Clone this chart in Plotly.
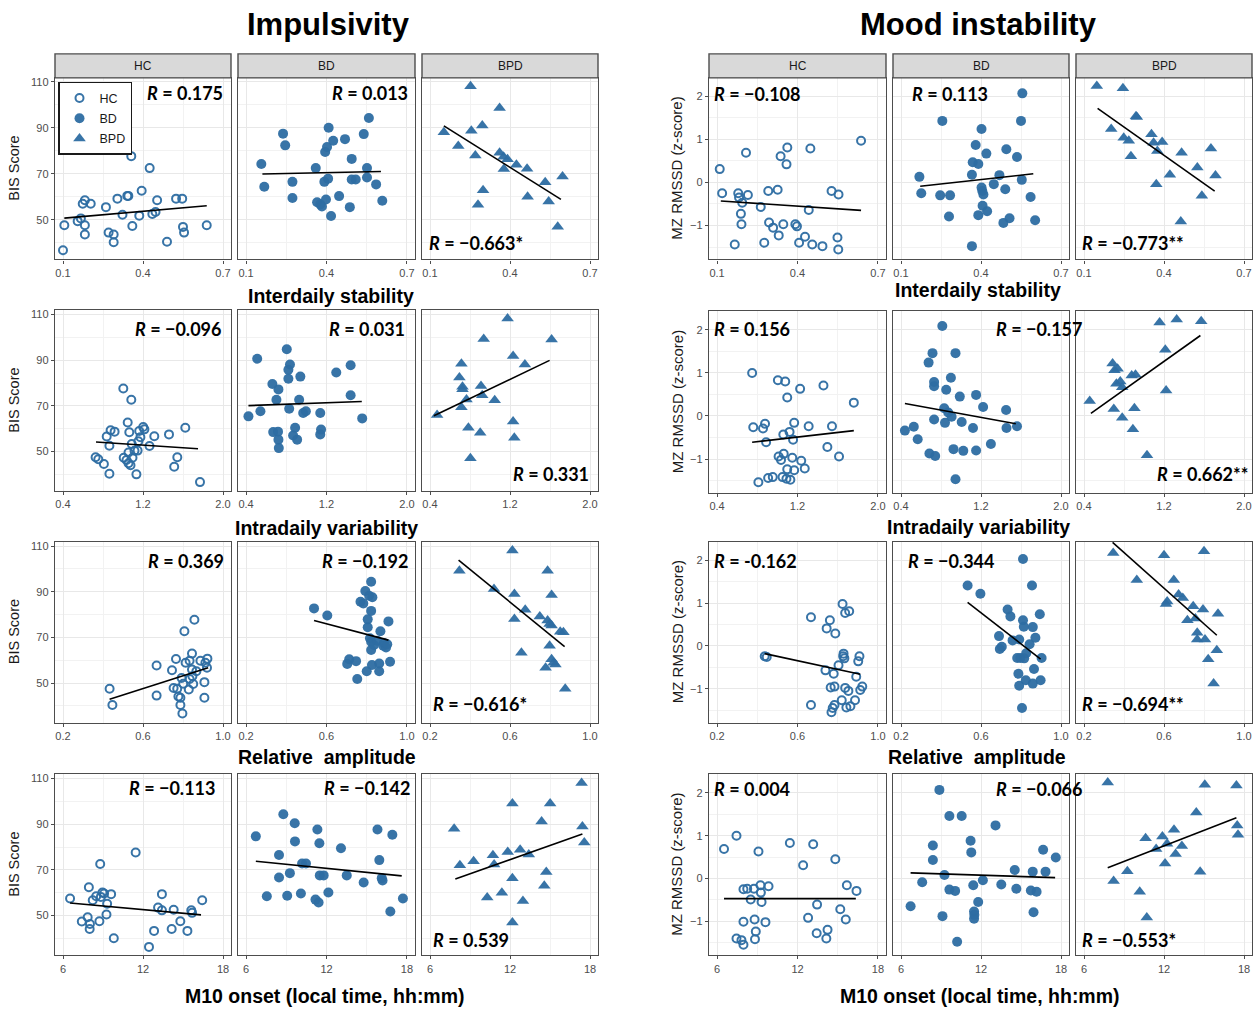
import plotly.graph_objects as go

# ------------------------------------------------------------------
# DATA
# ------------------------------------------------------------------
groups = ["HC", "BD", "BPD"]

# ---------- Impulsivity (BIS score) ----------
# Row 1 : interdaily stability
imp_is_hc_x = [0.10, 0.105, 0.155, 0.167, 0.182, 0.182, 0.174, 0.182, 0.204, 0.261, 0.271, 0.29, 0.29, 0.304, 0.323, 0.341, 0.345, 0.356, 0.36, 0.386, 0.395, 0.425, 0.435, 0.447, 0.453, 0.49, 0.524, 0.547, 0.55, 0.554, 0.639]
imp_is_hc_y = [36.7, 47.6, 49.4, 50.6, 47.6, 43.6, 57, 58.5, 57, 55.5, 44.4, 43.6, 40.2, 59.2, 52.2, 60.4, 60.4, 77.7, 47.3, 51.8, 62.6, 72.5, 52.5, 53.4, 58.5, 40.4, 59.2, 59.2, 46.9, 44.4, 47.6]
imp_is_bd_x = [0.157, 0.168, 0.238, 0.246, 0.273, 0.273, 0.36, 0.365, 0.377, 0.383, 0.392, 0.395, 0.398, 0.402, 0.406, 0.408, 0.417, 0.425, 0.447, 0.469, 0.487, 0.494, 0.494, 0.509, 0.539, 0.551, 0.551, 0.558, 0.585, 0.608]
imp_is_bd_y = [74.3, 64.4, 87.5, 82.4, 66.5, 59.5, 72.5, 57.6, 56.7, 55.8, 66.5, 79.5, 58.8, 81.7, 67.9, 90.1, 51.6, 84.4, 60.3, 85.1, 55.5, 76.5, 67.5, 67.5, 87.3, 72.5, 68.4, 94.3, 65.4, 58.3]
imp_is_bpd_x = [0.152, 0.206, 0.252, 0.255, 0.27, 0.28, 0.296, 0.299, 0.361, 0.361, 0.376, 0.377, 0.391, 0.424, 0.464, 0.466, 0.532, 0.545, 0.579, 0.597]
imp_is_bpd_y = [88.1, 82.1, 108.1, 88.8, 78, 56.5, 91, 62.9, 98.7, 79.2, 77.4, 72.1, 76.3, 74, 72.2, 60, 66.3, 58, 47, 68.8]
imp_is_fit_x = [[0.105, 0.639], [0.161, 0.603], [0.152, 0.591]]
imp_is_fit_y = [[50.7, 56.1], [69.9, 71.0], [90.9, 58.9]]

# Row 2 : intradaily variability
imp_iv_hc_x = [0.726, 0.753, 0.809, 0.837, 0.864, 0.864, 0.876, 0.916, 1.003, 1.007, 1.035, 1.047, 1.055, 1.055, 1.063, 1.075, 1.083, 1.087, 1.095, 1.115, 1.134, 1.146, 1.154, 1.162, 1.174, 1.202, 1.214, 1.265, 1.313, 1.46, 1.512, 1.543, 1.623, 1.77]
imp_iv_hc_y = [47.5, 46.6, 44.5, 56.6, 52.5, 40.3, 59.3, 58.7, 77.6, 47.3, 46.3, 62.7, 49.6, 44.9, 58.4, 44, 72.7, 53.3, 47.3, 50.3, 40, 50.4, 54.5, 59, 56.3, 60.7, 59.7, 52.4, 56.7, 57.5, 43.3, 47.5, 60.4, 36.6]
imp_iv_bd_x = [0.424, 0.511, 0.543, 0.662, 0.67, 0.702, 0.718, 0.722, 0.722, 0.726, 0.805, 0.821, 0.821, 0.829, 0.837, 0.868, 0.888, 0.908, 0.928, 0.94, 0.968, 0.995, 1.146, 1.138, 1.138, 1.297, 1.44, 1.44, 1.555]
imp_iv_bd_y = [65.4, 90.6, 67.6, 79.6, 58.5, 72.7, 58.7, 77.2, 55.2, 51.5, 94.8, 85.8, 81.9, 68.7, 88.1, 57, 60.4, 55.2, 72.7, 82.8, 66.9, 67.6, 59.6, 66.9, 57.5, 84.6, 87.8, 74.6, 64.5]
imp_iv_bpd_x = [0.471, 0.694, 0.714, 0.725, 0.725, 0.714, 0.765, 0.784, 0.804, 0.91, 0.922, 0.902, 0.937, 1.047, 1.176, 1.231, 1.231, 1.243, 1.349, 1.616]
imp_iv_bpd_y = [66, 82.4, 88.4, 78.4, 77.3, 69.4, 72.8, 60.4, 47, 78.7, 74.6, 58.2, 99.3, 72.4, 108.2, 91.8, 63.1, 56, 88.1, 99]
imp_iv_fit_x = [[0.73, 1.75], [0.424, 1.551], [0.439, 1.596]]
imp_iv_fit_y = [[54.2, 51.2], [70.1, 71.9], [65.7, 89.9]]

# Row 3 : relative amplitude
imp_ra_hc_x = [0.433, 0.447, 0.668, 0.668, 0.745, 0.753, 0.765, 0.771, 0.777, 0.787, 0.787, 0.793, 0.797, 0.801, 0.807, 0.813, 0.829, 0.833, 0.833, 0.845, 0.845, 0.847, 0.851, 0.857, 0.867, 0.887, 0.907, 0.907, 0.912, 0.922, 0.92]
imp_ra_hc_y = [47.5, 40.4, 57.7, 44.5, 55.6, 47.8, 60.5, 47.5, 44.1, 43.6, 40.4, 52.2, 36.7, 49.7, 72.7, 58.9, 47.2, 51.8, 59.8, 62.9, 55.9, 53, 49.6, 77.7, 55.2, 59.8, 50.4, 43.6, 58.9, 60.7, 56.7]
imp_ra_bd_x = [0.538, 0.604, 0.703, 0.713, 0.747, 0.753, 0.769, 0.783, 0.793, 0.8, 0.805, 0.805, 0.812, 0.816, 0.822, 0.822, 0.822, 0.822, 0.826, 0.828, 0.836, 0.852, 0.862, 0.862, 0.868, 0.882, 0.886, 0.896, 0.902, 0.908, 0.916]
imp_ra_bd_y = [82.7, 79.6, 58.4, 60.4, 59.6, 51.8, 85.6, 84.8, 90.3, 55.2, 74.4, 77.9, 88.2, 69.6, 94.4, 81.6, 68.1, 64.5, 57.9, 87.6, 66.7, 68.5, 55.2, 58.6, 72.7, 66.3, 67.5, 65.6, 67, 77, 59.3]
imp_ra_bpd_x = [0.347, 0.52, 0.612, 0.622, 0.622, 0.676, 0.657, 0.749, 0.788, 0.788, 0.798, 0.798, 0.778, 0.808, 0.808, 0.818, 0.827, 0.851, 0.867, 0.876, 0.808]
imp_ra_bpd_y = [99.2, 91.2, 108.1, 89, 78.1, 82.1, 63.3, 79.2, 99.2, 77.4, 75.9, 66.3, 56.7, 88.6, 60.4, 58.9, 58.1, 72.5, 72.2, 47.5, 75.2]
imp_ra_fit_x = [[0.433, 0.926], [0.538, 0.908], [0.343, 0.873]]
imp_ra_fit_y = [[42.9, 56.7], [77.4, 68.8], [103.8, 66.0]]

# Row 4 : M10 onset
imp_m10_hc_x = [6.53, 7.41, 7.85, 7.94, 8.0, 8.02, 8.23, 8.49, 8.73, 8.79, 8.84, 8.96, 9.08, 9.26, 9.31, 9.61, 9.81, 11.45, 12.45, 12.83, 13.13, 13.42, 13.42, 14.15, 14.3, 14.8, 15.33, 15.62, 15.68, 16.44]
imp_m10_hc_y = [57.5, 47.4, 49.3, 62.4, 44.1, 46.3, 56.7, 58.5, 47.5, 72.6, 58.2, 60.1, 59.7, 50.5, 55.2, 59.4, 40.1, 77.6, 36.3, 43.3, 53.5, 59.4, 52.3, 44.1, 52.6, 47.5, 43.3, 52.3, 51.2, 56.7]
imp_m10_bd_x = [6.73, 7.55, 8.46, 8.46, 8.78, 9.07, 9.27, 9.63, 9.65, 10.09, 10.18, 10.47, 11.18, 11.32, 11.41, 11.47, 11.5, 11.79, 12.14, 13.08, 13.51, 14.77, 15.8, 15.94, 16.12, 16.18, 16.76, 16.91, 17.7]
imp_m10_bd_y = [84.7, 58.5, 76.5, 66.7, 94.4, 58.7, 68.6, 90.4, 82.5, 59.7, 72.8, 72.8, 57, 87.7, 55.7, 81.7, 67.6, 67.6, 60.1, 79.5, 67.6, 64.5, 87.7, 74.3, 66.4, 65.4, 51.8, 85.4, 57.5]
imp_m10_bpd_x = [7.81, 8.24, 9.27, 10.29, 10.72, 10.81, 11.39, 11.83, 12.18, 12.18, 12.18, 12.76, 12.97, 13.41, 14.37, 14.57, 14.72, 15.01, 17.37, 17.43, 17.57]
imp_m10_bpd_y = [88, 72.1, 73.8, 57.9, 76.4, 72.4, 60, 77.9, 99.1, 66.4, 47, 78.8, 56.4, 76.8, 91.2, 63.1, 69.1, 99.1, 108.1, 89, 82]
imp_m10_fit_x = [[6.53, 16.35], [6.73, 17.61], [7.9, 17.43]]
imp_m10_fit_y = [[55.5, 50.3], [73.8, 67.4], [66.0, 85.7]]

# ---------- Mood instability (MZ RMSSD z-score) ----------
mood_is_hc_x = [0.11, 0.119, 0.166, 0.179, 0.182, 0.189, 0.191, 0.194, 0.208, 0.215, 0.263, 0.276, 0.291, 0.294, 0.309, 0.326, 0.33, 0.337, 0.347, 0.359, 0.362, 0.392, 0.398, 0.406, 0.428, 0.442, 0.448, 0.455, 0.493, 0.527, 0.549, 0.552, 0.553, 0.637]
mood_is_hc_y = [0.31, -0.25, -1.44, -0.25, -0.35, -0.73, -0.97, -0.47, 0.69, -0.29, -0.57, -1.4, -0.2, -0.93, -1.05, -0.17, -1.23, 0.61, -0.97, 0.42, 0.81, -0.97, -1.02, -1.4, -1.26, -0.64, 0.79, -1.44, -1.48, -0.2, -1.28, -1.56, -0.28, 0.97]
mood_is_bd_x = [0.169, 0.176, 0.247, 0.255, 0.28, 0.284, 0.366, 0.366, 0.369, 0.38, 0.39, 0.39, 0.402, 0.402, 0.405, 0.406, 0.409, 0.42, 0.423, 0.448, 0.469, 0.484, 0.491, 0.495, 0.507, 0.535, 0.55, 0.553, 0.555, 0.586, 0.603]
mood_is_bd_y = [0.13, -0.25, -0.3, 1.43, -0.79, -0.3, -1.48, 0.18, 0.47, 0.87, 0.43, -0.76, 1.24, -0.12, -0.2, -0.54, -0.28, 0.67, -0.67, -0.04, 0.17, -0.94, -0.16, 0.77, -0.83, 0.59, 1.43, 0.06, 2.07, -0.34, -0.88]
mood_is_bpd_x = [0.148, 0.202, 0.246, 0.249, 0.268, 0.276, 0.295, 0.298, 0.353, 0.361, 0.371, 0.375, 0.393, 0.422, 0.466, 0.463, 0.525, 0.542, 0.576, 0.593]
mood_is_bpd_y = [2.24, 1.24, 2.19, 1.04, 0.97, 0.61, 1.54, 1.52, 1.12, 0.92, -0.04, 0.73, 0.94, 0.18, 0.69, -0.91, 0.35, -0.31, 0.79, 0.16]
mood_is_fit_x = [[0.114, 0.637], [0.172, 0.596], [0.151, 0.59]]
mood_is_fit_y = [[-0.43, -0.65], [-0.09, 0.2], [1.72, -0.2]]

mood_iv_hc_x = [0.749, 0.76, 0.811, 0.857, 0.877, 0.888, 0.908, 0.954, 1.005, 1.012, 1.036, 1.051, 1.059, 1.063, 1.078, 1.09, 1.098, 1.098, 1.121, 1.129, 1.148, 1.156, 1.167, 1.167, 1.226, 1.237, 1.272, 1.311, 1.458, 1.497, 1.543, 1.613, 1.76]
mood_iv_hc_y = [1.0, -0.26, -1.54, -0.29, -0.18, -0.61, -1.44, -1.42, 0.83, -0.94, -1.02, -1.42, -0.43, -0.88, 0.8, -1.46, 0.43, -1.24, -0.37, -1.48, -0.97, -0.55, -0.16, -1.26, 0.63, -1.04, -1.22, -0.24, 0.71, -0.72, -0.24, -0.94, 0.31]
mood_iv_bd_x = [0.439, 0.528, 0.567, 0.676, 0.684, 0.715, 0.731, 0.731, 0.731, 0.742, 0.813, 0.832, 0.84, 0.852, 0.872, 0.899, 0.906, 0.925, 0.945, 0.945, 0.988, 1.007, 1.023, 1.12, 1.151, 1.151, 1.221, 1.299, 1.451, 1.455, 1.56]
mood_iv_bd_y = [-0.34, -0.25, -0.54, 1.24, -0.87, 1.46, 0.79, 0.69, -0.08, -0.93, 2.09, 0.18, -0.16, 0.61, 0.08, 0.89, -0.02, -0.77, 1.46, -1.47, 0.45, -0.14, -0.81, -0.28, 0.49, -0.8, 0.21, -0.65, 0.14, -0.28, -0.24]
mood_iv_bpd_x = [0.457, 0.686, 0.705, 0.724, 0.736, 0.698, 0.763, 0.782, 0.782, 0.877, 0.915, 0.889, 0.904, 1.03, 1.156, 1.213, 1.221, 1.327, 1.572]
mood_iv_bpd_y = [0.35, 1.22, 1.06, 0.75, 1.1, 0.16, 0.8, -0.04, 0.67, 0.94, 0.96, -0.31, 0.18, -0.91, 2.17, 1.54, 0.59, 2.24, 2.2]
mood_iv_fit_x = [[0.749, 1.76], [0.439, 1.548], [0.469, 1.564]]
mood_iv_fit_y = [[-0.61, -0.34], [0.29, -0.18], [0.06, 1.87]]

mood_ra_hc_x = [0.437, 0.447, 0.667, 0.667, 0.739, 0.745, 0.761, 0.765, 0.769, 0.775, 0.78, 0.784, 0.784, 0.788, 0.804, 0.82, 0.824, 0.827, 0.829, 0.833, 0.837, 0.837, 0.843, 0.853, 0.857, 0.863, 0.886, 0.892, 0.902, 0.908, 0.912, 0.922]
mood_ra_hc_y = [-0.24, -0.26, 0.67, -1.38, -0.57, 0.41, 0.6, -0.97, -1.55, -1.45, -0.65, -0.95, -1.38, 0.29, -0.45, -1.27, 0.98, -0.24, -0.18, -0.29, 0.77, -0.98, -1.44, -1.05, 0.81, -1.41, -1.27, -0.72, -0.36, -0.24, -1.03, -0.95]
mood_ra_bd_x = [0.533, 0.597, 0.69, 0.694, 0.704, 0.733, 0.747, 0.758, 0.781, 0.787, 0.791, 0.791, 0.797, 0.805, 0.81, 0.81, 0.814, 0.816, 0.824, 0.826, 0.843, 0.855, 0.859, 0.859, 0.865, 0.872, 0.894, 0.898, 0.903]
mood_ra_bd_y = [1.41, 1.22, 0.23, -0.07, -0.02, 0.85, 0.69, 0.13, -0.28, -0.65, -0.93, 0.15, -0.28, -1.45, 2.03, 0.6, 0.45, -0.29, -0.8, -0.17, 0.04, 1.41, 0.44, -0.88, -0.54, 0.19, 0.74, -0.8, -0.28]
mood_ra_bpd_x = [0.346, 0.464, 0.6, 0.61, 0.616, 0.649, 0.673, 0.694, 0.717, 0.746, 0.757, 0.766, 0.766, 0.8, 0.805, 0.821, 0.848, 0.864, 0.87, 0.795]
mood_ra_bpd_y = [2.17, 1.54, 2.12, 0.98, 1.04, 1.54, 1.2, 1.12, 0.6, 0.93, 0.64, 0.31, 0.15, 2.21, 0.15, -0.31, -0.88, -0.1, 0.75, 0.85]
mood_ra_fit_x = [[0.437, 0.912], [0.533, 0.898], [0.343, 0.864]]
mood_ra_fit_y = [[-0.18, -0.66], [1.02, -0.31], [2.42, 0.25]]

mood_m10_hc_x = [6.52, 7.45, 7.45, 7.82, 7.97, 7.97, 7.97, 8.25, 8.51, 8.75, 8.8, 8.83, 8.89, 9.09, 9.24, 9.27, 9.32, 9.61, 9.84, 11.43, 12.42, 12.79, 13.17, 13.46, 13.43, 14.15, 14.24, 14.82, 15.19, 15.6, 15.68, 16.4]
mood_m10_hc_y = [0.69, 1.0, -1.4, -1.44, -0.25, -1.01, -1.55, -0.24, -0.49, -0.24, -0.96, -1.42, -1.24, 0.63, -0.16, -0.33, -0.55, -1.02, -0.18, 0.83, 0.31, -0.92, 0.8, -0.61, -1.28, -1.4, -1.2, 0.45, -0.72, -0.96, -0.16, -0.29]
mood_m10_bd_x = [6.72, 7.59, 8.39, 8.39, 8.88, 9.11, 9.26, 9.63, 9.63, 10.06, 10.21, 10.55, 11.22, 11.27, 11.42, 11.48, 11.48, 11.5, 11.79, 12.14, 13.09, 13.52, 14.53, 14.65, 15.74, 15.88, 15.94, 16.17, 16.66, 16.84, 17.61]
mood_m10_bd_y = [-0.65, -0.09, 0.77, 0.43, 2.07, -0.88, 0.08, 1.46, -0.26, -0.29, -1.48, 1.46, 0.88, 0.61, -0.16, -0.77, -0.94, -0.85, -0.55, -0.04, 1.24, -0.14, 0.2, -0.24, -0.28, 0.16, -0.79, -0.31, 0.67, 0.16, 0.49]
mood_m10_bpd_x = [7.78, 8.22, 9.25, 10.18, 10.62, 10.71, 11.41, 11.88, 12.08, 12.23, 12.75, 12.87, 13.34, 14.42, 14.71, 15.06, 17.43, 17.49, 17.55]
mood_m10_bpd_y = [2.24, -0.06, 0.17, -0.31, 0.94, -0.91, 0.69, 0.98, 0.35, 0.81, 1.14, 0.57, 0.76, 1.54, 0.16, 2.19, 2.17, 1.24, 1.02]
mood_m10_fit_x = [[6.52, 16.35], [6.72, 17.56], [7.78, 17.43]]
mood_m10_fit_y = [[-0.47, -0.47], [0.13, 0.02], [0.25, 1.42]]

# Correlation labels
imp_r = [["0.175", "0.013", "\u22120.663*"],
         ["\u22120.096", "0.031", "0.331"],
         ["0.369", "\u22120.192", "\u22120.616*"],
         ["\u22120.113", "\u22120.142", "0.539"]]
mood_r = [["\u22120.108", "0.113", "\u22120.773**"],
          ["0.156", "\u22120.157", "0.662**"],
          ["-0.162", "\u22120.344", "\u22120.694**"],
          ["0.004", "\u22120.066", "\u22120.553*"]]

# Axis scales / labels
row_titles = ["Interdaily stability", "Intradaily variability", "Relative\u00a0 amplitude",
              "M10 onset (local time, hh:mm)"]
x_ticks = [[0.1, 0.4, 0.7], [0.4, 1.2, 2.0], [0.2, 0.6, 1.0], [6, 12, 18]]
x_ticktext = [["0.1", "0.4", "0.7"], ["0.4", "1.2", "2.0"], ["0.2", "0.6", "1.0"], ["6", "12", "18"]]
x_minor = [[0.25, 0.55], [0.8, 1.6], [0.4, 0.8], [9, 15]]
x_ranges = [[0.07, 0.73], [0.32, 2.08], [0.16, 1.04], [5.4, 18.6]]
imp_y_ticks = [50, 70, 90, 110]
imp_y_minor = [40, 60, 80, 100]
imp_y_range = [32.7, 111.8]
mood_y_ticks = [-1, 0, 1, 2]
mood_y_ticktext = ["\u22121", "0", "1", "2"]
mood_y_minor = [-1.5, -0.5, 0.5, 1.5]
mood_y_range = [-1.79, 2.43]

# ------------------------------------------------------------------
# FIGURE
# ------------------------------------------------------------------
W, H = 1256, 1009
BLUE = "#2D6DA2"
BORDER = "#4D4D4D"
GRID = "#E8E8E8"
MINOR = "#F2F2F2"
SANS = "Liberation Sans, Arial, sans-serif"
TICKFONT = dict(family=SANS, size=11, color="#4D4D4D")


def px(x):
    return x / W


def py(y):
    return 1 - y / H


markers = {
    "HC": dict(symbol="circle-open", size=8, color=BLUE, line=dict(width=2, color=BLUE)),
    "BD": dict(symbol="circle", size=10, color=BLUE, line=dict(width=0)),
    "BPD": dict(symbol="triangle-up", size=11, color=BLUE, line=dict(width=0)),
}

g = globals()
panels = ["imp", "mood"]
rows = ["is", "iv", "ra", "m10"]
col_px = {"imp": [(55, 231), (238, 415), (422, 598)],
          "mood": [(709, 886), (893, 1069), (1076, 1252)]}
row_px = {"imp": [(76, 258), (309, 490), (541, 722), (774, 955)],
          "mood": [(76, 258), (310, 492), (541, 722), (774, 955)]}

# label placement: (anchor, x px, y px)
label_pos = {
    "imp": [[("right", 225, 91), ("right", 410, 91), ("left", 427, 241)],
            [("right", 223, 328), ("right", 407, 328), ("right", 591, 473)],
            [("right", 226, 560), ("right", 410, 560), ("left", 431, 703)],
            [("right", 217, 788), ("right", 412, 788), ("left", 431, 940)]],
    "mood": [[("left", 712, 92), ("left", 910, 92), ("left", 1080, 241)],
             [("left", 712, 328), ("left", 994, 328), ("left", 1155, 473)],
             [("left", 712, 560), ("left", 906, 560), ("left", 1080, 703)],
             [("left", 712, 789), ("left", 994, 789), ("left", 1080, 940)]],
}

fig = go.Figure()
layout = {}
annotations = []
shapes = []

k = 0
for p in panels:
    r_labels = imp_r if p == "imp" else mood_r
    for ri, rname in enumerate(rows):
        fx = g[f"{p}_{rname}_fit_x"]
        fy = g[f"{p}_{rname}_fit_y"]
        for ci, grp in enumerate(groups):
            k += 1
            xa = "x" if k == 1 else f"x{k}"
            ya = "y" if k == 1 else f"y{k}"
            xs = g[f"{p}_{rname}_{grp.lower()}_x"]
            ys = g[f"{p}_{rname}_{grp.lower()}_y"]
            fig.add_trace(go.Scatter(
                x=xs, y=ys, mode="markers", name=grp, legendgroup=grp,
                marker=dict(opacity=0.95, **markers[grp]),
                showlegend=(k <= 3), xaxis=xa, yaxis=ya, hoverinfo="x+y"))
            fig.add_trace(go.Scatter(
                x=fx[ci], y=fy[ci], mode="lines", line=dict(color="black", width=1.6),
                showlegend=False, xaxis=xa, yaxis=ya, hoverinfo="skip"))

            x0, x1 = col_px[p][ci]
            y0, y1 = row_px[p][ri]
            xkey = "xaxis" if k == 1 else f"xaxis{k}"
            ykey = "yaxis" if k == 1 else f"yaxis{k}"
            layout[xkey] = dict(
                domain=[px(x0), px(x1)], range=x_ranges[ri], anchor=ya,
                tickmode="array", tickvals=x_ticks[ri], ticktext=x_ticktext[ri],
                showgrid=True, gridcolor=GRID, gridwidth=1.1,
                minor=dict(tickmode="array", tickvals=x_minor[ri], showgrid=True,
                           gridcolor=MINOR, gridwidth=0.6, ticks=""),
                showline=True, mirror=True, linecolor=BORDER, linewidth=1.4,
                ticks="outside", ticklen=3, tickcolor=BORDER, tickwidth=1,
                tickfont=TICKFONT, zeroline=False, fixedrange=True)
            if p == "imp":
                yt, ytt, ym, yr = imp_y_ticks, [str(v) for v in imp_y_ticks], imp_y_minor, imp_y_range
            else:
                yt, ytt, ym, yr = mood_y_ticks, mood_y_ticktext, mood_y_minor, mood_y_range
            layout[ykey] = dict(
                domain=[py(y1), py(y0)], range=yr, anchor=xa,
                tickmode="array", tickvals=yt, ticktext=ytt,
                showgrid=True, gridcolor=GRID, gridwidth=1.1,
                minor=dict(tickmode="array", tickvals=ym, showgrid=True,
                           gridcolor=MINOR, gridwidth=0.6, ticks=""),
                showline=True, mirror=True, linecolor=BORDER, linewidth=1.4,
                ticks="outside" if ci == 0 else "", ticklen=3, tickcolor=BORDER,
                showticklabels=(ci == 0), tickfont=TICKFONT,
                zeroline=False, fixedrange=True)

            # correlation label
            anc, lx, ly = label_pos[p][ri][ci]
            annotations.append(dict(
                x=px(lx), y=py(ly), xref="paper", yref="paper", xanchor=anc, yanchor="middle",
                text=f"<b><i>R</i> = {r_labels[ri][ci]}</b>", showarrow=False,
                font=dict(family="Lato, Carlito, sans-serif", size=18, color="black")))

            # strips for first row
            if ri == 0:
                shapes.append(dict(type="rect", xref="paper", yref="paper",
                                   x0=px(x0), x1=px(x1), y0=py(76), y1=py(52),
                                   fillcolor="#D9D9D9", line=dict(color=BORDER, width=1.4)))
                annotations.append(dict(
                    x=px((x0 + x1) / 2), y=py(64.5), xref="paper", yref="paper",
                    text=grp, showarrow=False, xanchor="center", yanchor="middle",
                    font=dict(family=SANS, size=12, color="#1A1A1A")))

# main titles
for text, cx in [("Impulsivity", 328), ("Mood instability", 978)]:
    annotations.append(dict(x=px(cx), y=py(23), xref="paper", yref="paper", text=f"<b>{text}</b>",
                            showarrow=False, xanchor="center", yanchor="middle",
                            font=dict(family=SANS, size=31, color="black")))

# row titles / x-axis titles
row_title_pos = {"imp": [(331, 295), (326, 527), (327, 757), (325, 996)],
                 "mood": [(978, 289), (978, 526), (977, 757), (980, 996)]}
for p in panels:
    for ri, t in enumerate(row_titles):
        cx, cy = row_title_pos[p][ri]
        annotations.append(dict(x=px(cx), y=py(cy), xref="paper", yref="paper", text=f"<b>{t}</b>",
                                showarrow=False, xanchor="center", yanchor="middle",
                                font=dict(family=SANS, size=19.5, color="black")))

# y-axis titles
for p, label, cx, fs in [("imp", "BIS Score", 14, 14.5), ("mood", "MZ RMSSD (z-score)", 677, 15)]:
    for ri in range(4):
        y0, y1 = row_px[p][ri]
        annotations.append(dict(x=px(cx), y=py((y0 + y1) / 2), xref="paper", yref="paper", text=label,
                                showarrow=False, textangle=-90, xanchor="center", yanchor="middle",
                                font=dict(family=SANS, size=fs, color="#1A1A1A")))

fig.update_layout(
    width=W, height=H, margin=dict(l=0, r=0, t=0, b=0),
    paper_bgcolor="white", plot_bgcolor="white",
    showlegend=True,
    legend=dict(x=px(58), y=py(80), xanchor="left", yanchor="top", bgcolor="white",
                bordercolor="#1A1A1A", borderwidth=1.5, tracegroupgap=1,
                font=dict(family=SANS, size=12.5, color="#1A1A1A"),
                traceorder="grouped", itemwidth=30),
    annotations=annotations, shapes=shapes,
    **layout,
)

fig.write_html("out.html", config={"displayModeBar": False},
               post_script="document.body.style.margin='0px';document.body.style.overflow='hidden';")
